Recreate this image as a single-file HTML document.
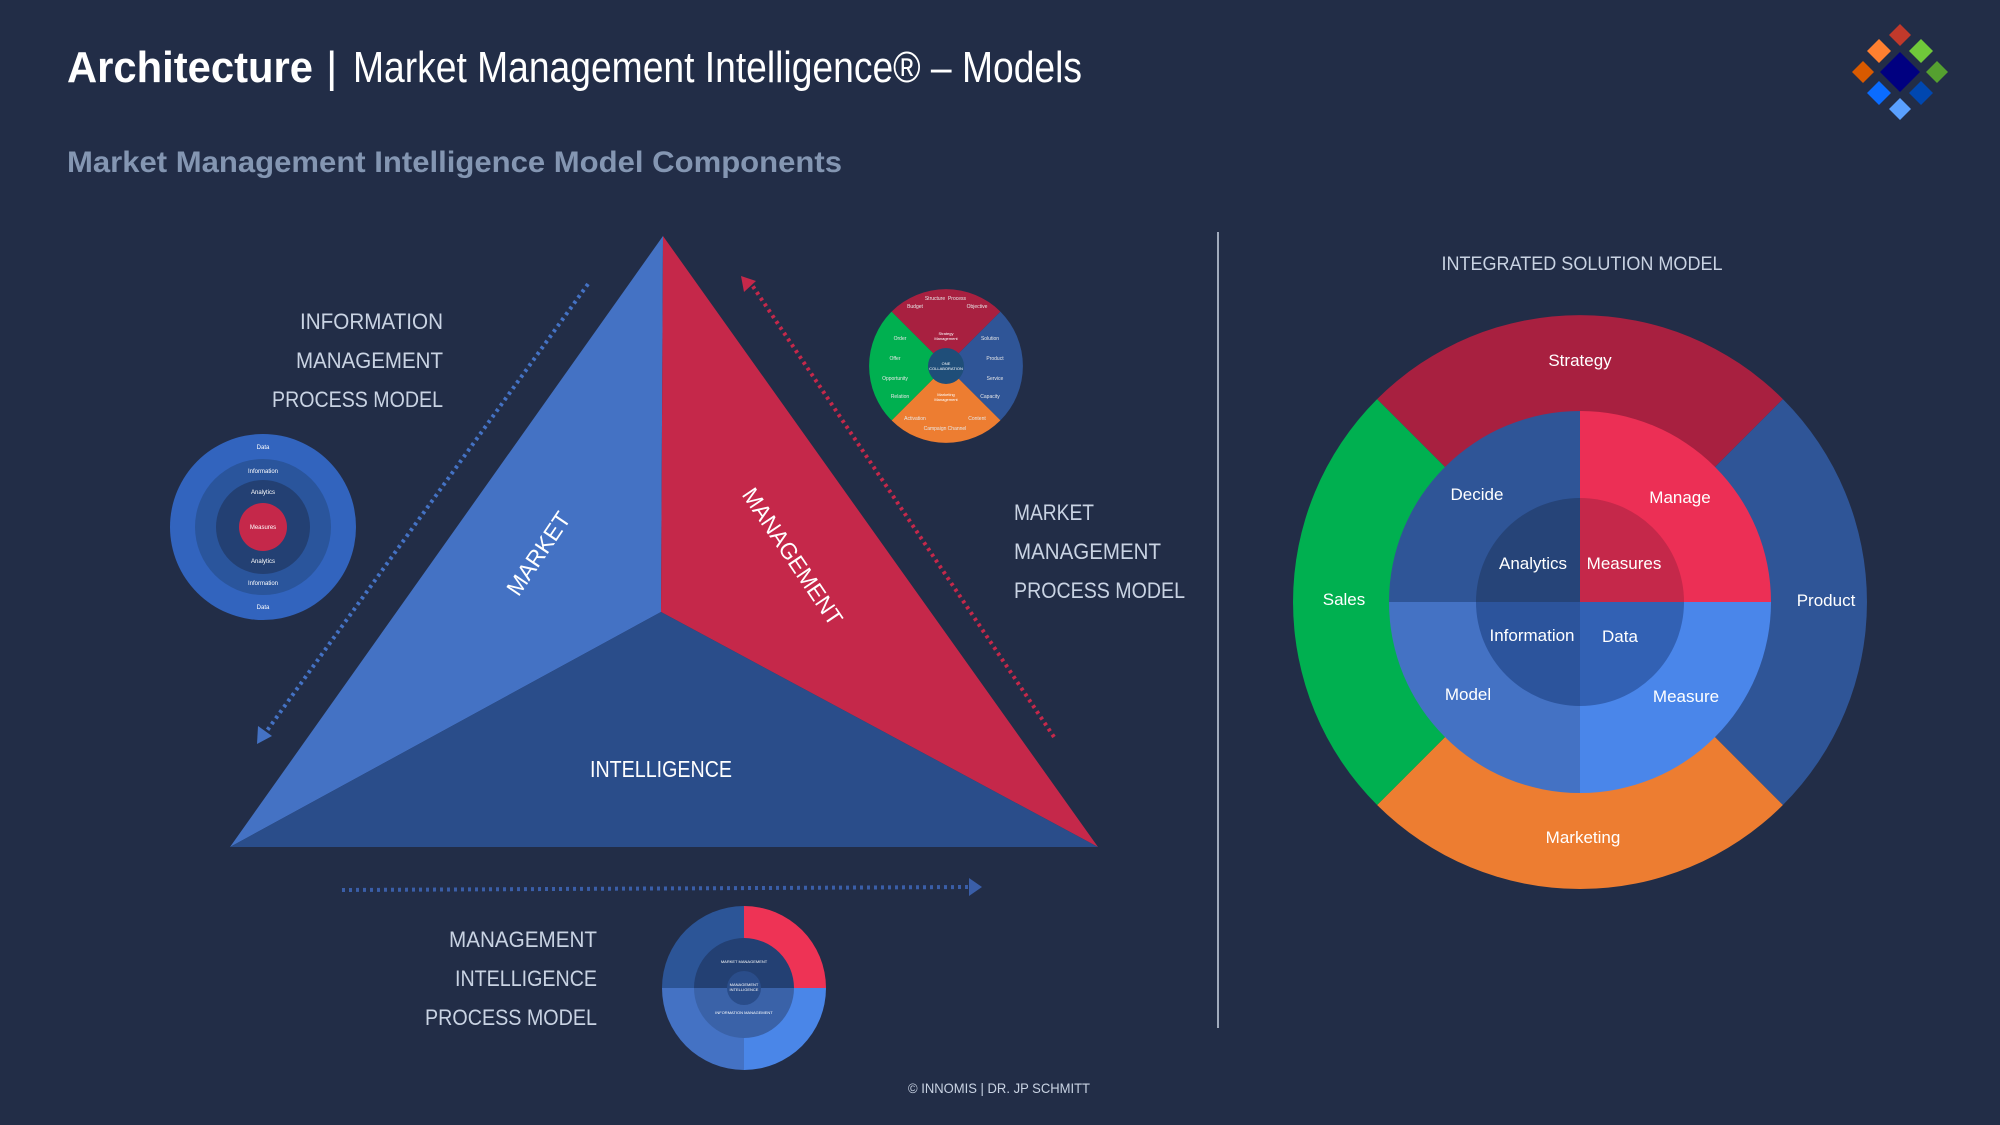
<!DOCTYPE html>
<html><head><meta charset="utf-8"><style>
html,body{margin:0;padding:0;background:#222d47;}
svg{display:block;}
text{font-family:"Liberation Sans",sans-serif;}
</style></head><body>
<svg width="2000" height="1125" viewBox="0 0 2000 1125" xmlns="http://www.w3.org/2000/svg">
<rect width="2000" height="1125" fill="#222d47"/>
<!-- Title -->
<text x="67" y="82" font-size="44" font-weight="bold" fill="#fff" textLength="246" lengthAdjust="spacingAndGlyphs">Architecture</text>
<text x="326" y="82" font-size="44" fill="#fff">|</text>
<text x="353" y="82" font-size="44" fill="#fff" textLength="729" lengthAdjust="spacingAndGlyphs">Market Management Intelligence® – Models</text>
<text x="67" y="172" font-size="30" font-weight="bold" fill="#8496b2" textLength="775" lengthAdjust="spacingAndGlyphs">Market Management Intelligence Model Components</text>
<!-- Logo -->
<g>
<polygon points="1900,52 1920,72 1900,92 1880,72" fill="#000080"/>
<polygon points="1900,24 1911,35 1900,46 1889,35" fill="#c0392b"/>
<polygon points="1879,39 1891,51 1879,63 1867,51" fill="#ff8030"/>
<polygon points="1921,39 1933,51 1921,63 1909,51" fill="#70c83a"/>
<polygon points="1863,61 1874,72 1863,83 1852,72" fill="#d95a00"/>
<polygon points="1937,61 1948,72 1937,83 1926,72" fill="#55a030"/>
<polygon points="1879,81 1891,93 1879,105 1867,93" fill="#0a6cff"/>
<polygon points="1921,81 1933,93 1921,105 1909,93" fill="#0047b0"/>
<polygon points="1900,98 1911,109 1900,120 1889,109" fill="#5aa0ff"/>
</g>
<!-- Triangle -->
<polygon points="663,236 661,612 230,847" fill="#4472c4"/>
<polygon points="663,236 1098,847 661,612" fill="#c5284a"/>
<polygon points="230,847 661,612 1098,847" fill="#2a4d8a"/>
<text x="0" y="0" font-size="23" fill="#fff" text-anchor="middle" transform="translate(545,558) rotate(-56)" textLength="95" lengthAdjust="spacingAndGlyphs">MARKET</text>
<text x="0" y="0" font-size="23" fill="#fff" text-anchor="middle" transform="translate(786,561) rotate(56)" textLength="160" lengthAdjust="spacingAndGlyphs">MANAGEMENT</text>
<text x="661" y="777" font-size="23" fill="#fff" text-anchor="middle" textLength="142" lengthAdjust="spacingAndGlyphs">INTELLIGENCE</text>
<!-- dotted arrows -->
<line x1="588" y1="284" x2="266" y2="732" stroke="#4472c4" stroke-width="4" stroke-dasharray="3 4"/>
<polygon points="257,744 258,726 272,736" fill="#4472c4"/>
<line x1="1054" y1="737" x2="752" y2="285" stroke="#c5284a" stroke-width="4" stroke-dasharray="3 4"/>
<polygon points="741,276 756,281 744,292" fill="#c5284a"/>
<line x1="342" y1="890" x2="970" y2="887" stroke="#3a5ea8" stroke-width="4" stroke-dasharray="3 4"/>
<polygon points="982,887 969,878 969,896" fill="#3a5ea8"/>
<!-- labels -->
<g font-size="22" fill="#c9d3e3" lengthAdjust="spacingAndGlyphs">
<text x="443" y="329" text-anchor="end" textLength="143" lengthAdjust="spacingAndGlyphs">INFORMATION</text>
<text x="443" y="368" text-anchor="end" textLength="147" lengthAdjust="spacingAndGlyphs">MANAGEMENT</text>
<text x="443" y="407" text-anchor="end" textLength="171" lengthAdjust="spacingAndGlyphs">PROCESS MODEL</text>
<text x="1014" y="520" textLength="80" lengthAdjust="spacingAndGlyphs">MARKET</text>
<text x="1014" y="559" textLength="147" lengthAdjust="spacingAndGlyphs">MANAGEMENT</text>
<text x="1014" y="598" textLength="171" lengthAdjust="spacingAndGlyphs">PROCESS MODEL</text>
<text x="597" y="947" text-anchor="end" textLength="148" lengthAdjust="spacingAndGlyphs">MANAGEMENT</text>
<text x="597" y="986" text-anchor="end" textLength="142" lengthAdjust="spacingAndGlyphs">INTELLIGENCE</text>
<text x="597" y="1025" text-anchor="end" textLength="172" lengthAdjust="spacingAndGlyphs">PROCESS MODEL</text>
</g>
<!-- left small circle -->
<circle cx="263" cy="527" r="93" fill="#3264be"/>
<circle cx="263" cy="527" r="68" fill="#2a559c"/>
<circle cx="263" cy="527" r="47" fill="#234073"/>
<circle cx="263" cy="527" r="24" fill="#c5284a"/>
<g font-size="6" fill="#fff" text-anchor="middle">
<text x="263" y="449">Data</text><text x="263" y="473">Information</text><text x="263" y="494">Analytics</text>
<text x="263" y="529">Measures</text><text x="263" y="563">Analytics</text><text x="263" y="585">Information</text><text x="263" y="609">Data</text>
</g>
<!-- top-right wheel -->
<g>
<path d="M946,366 L891.6,311.6 A77,77 0 0 1 1000.4,311.6 Z" fill="#a82040"/>
<path d="M946,366 L1000.4,311.6 A77,77 0 0 1 1000.4,420.4 Z" fill="#2f5597"/>
<path d="M946,366 L1000.4,420.4 A77,77 0 0 1 891.6,420.4 Z" fill="#ed7d31"/>
<path d="M946,366 L891.6,420.4 A77,77 0 0 1 891.6,311.6 Z" fill="#00b050"/>
<circle cx="946" cy="366" r="18" fill="#1f4e79"/>
<g font-size="4" fill="#fff" text-anchor="middle">
<text x="946" y="335">Strategy</text><text x="946" y="340">Management</text>
<text x="946" y="365">ONE</text><text x="946" y="370">COLLABORATION</text>
<text x="946" y="396">Marketing</text><text x="946" y="401">Management</text>
</g>
<g font-size="5" fill="#e8e8e8" text-anchor="middle">
<text x="915" y="308">Budget</text><text x="935" y="300">Structure</text><text x="957" y="300">Process</text><text x="977" y="308">Objective</text>
<text x="990" y="340">Solution</text><text x="995" y="360">Product</text><text x="995" y="380">Service</text><text x="990" y="398">Capacity</text>
<text x="977" y="420">Content</text><text x="957" y="430">Channel</text><text x="935" y="430">Campaign</text><text x="915" y="420">Activation</text>
<text x="900" y="340">Order</text><text x="895" y="360">Offer</text><text x="895" y="380">Opportunity</text><text x="900" y="398">Relation</text>
</g>
</g>
<!-- bottom wheel -->
<g>
<path d="M744,988 L662,988 A82,82 0 0 1 744,906 Z" fill="#2c5597"/>
<path d="M744,988 L744,906 A82,82 0 0 1 826,988 Z" fill="#ee3355"/>
<path d="M744,988 L826,988 A82,82 0 0 1 744,1070 Z" fill="#4a86e8"/>
<path d="M744,988 L744,1070 A82,82 0 0 1 662,988 Z" fill="#4472c4"/>
<path d="M694,988 A50,50 0 0 1 794,988 Z" fill="#234073"/>
<path d="M694,988 A50,50 0 0 0 794,988 Z" fill="#3a62a8"/>
<circle cx="744" cy="988" r="17" fill="#2a4d8a"/>
<g font-size="4" fill="#fff" text-anchor="middle">
<text x="744" y="963">MARKET MANAGEMENT</text>
<text x="744" y="1014">INFORMATION MANAGEMENT</text>
<text x="744" y="986">MANAGEMENT</text><text x="744" y="991">INTELLIGENCE</text>
</g>
</g>
<!-- divider -->
<line x1="1218" y1="232" x2="1218" y2="1028" stroke="#c9d3e3" stroke-width="1.5"/>
<!-- integrated model -->
<text x="1582" y="270" font-size="19" fill="#c9d3e3" text-anchor="middle" textLength="281" lengthAdjust="spacingAndGlyphs">INTEGRATED SOLUTION MODEL</text>
<path d="M1580,602 L1377.1,399.1 A287,287 0 0 1 1782.9,399.1 Z" fill="#a82040"/>
<path d="M1580,602 L1782.9,399.1 A287,287 0 0 1 1782.9,805 Z" fill="#2f5597"/>
<path d="M1580,602 L1782.9,805 A287,287 0 0 1 1377.1,805 Z" fill="#ed7d31"/>
<path d="M1580,602 L1377.1,805 A287,287 0 0 1 1377.1,399.1 Z" fill="#00b050"/>
<path d="M1580,602 L1389,602 A191,191 0 0 1 1580,411 Z" fill="#2f5597"/>
<path d="M1580,602 L1580,411 A191,191 0 0 1 1771,602 Z" fill="#ec2f55"/>
<path d="M1580,602 L1771,602 A191,191 0 0 1 1580,793 Z" fill="#4a86ea"/>
<path d="M1580,602 L1580,793 A191,191 0 0 1 1389,602 Z" fill="#4472c4"/>
<path d="M1580,602 L1476,602 A104,104 0 0 1 1580,498 Z" fill="#264478"/>
<path d="M1580,602 L1580,498 A104,104 0 0 1 1684,602 Z" fill="#c5284a"/>
<path d="M1580,602 L1684,602 A104,104 0 0 1 1580,706 Z" fill="#3261b4"/>
<path d="M1580,602 L1580,706 A104,104 0 0 1 1476,602 Z" fill="#2c549c"/>
<g font-size="17" fill="#fff" text-anchor="middle">
<text x="1580" y="366">Strategy</text>
<text x="1826" y="606">Product</text>
<text x="1583" y="843">Marketing</text>
<text x="1344" y="605">Sales</text>
<text x="1477" y="500">Decide</text>
<text x="1680" y="503">Manage</text>
<text x="1468" y="700">Model</text>
<text x="1686" y="702">Measure</text>
<text x="1533" y="569">Analytics</text>
<text x="1624" y="569">Measures</text>
<text x="1532" y="641">Information</text>
<text x="1620" y="642">Data</text>
</g>
<text x="999" y="1093" font-size="14" fill="#c9d3e3" text-anchor="middle" textLength="182" lengthAdjust="spacingAndGlyphs">© INNOMIS | DR. JP SCHMITT</text>
</svg>
</body></html>
